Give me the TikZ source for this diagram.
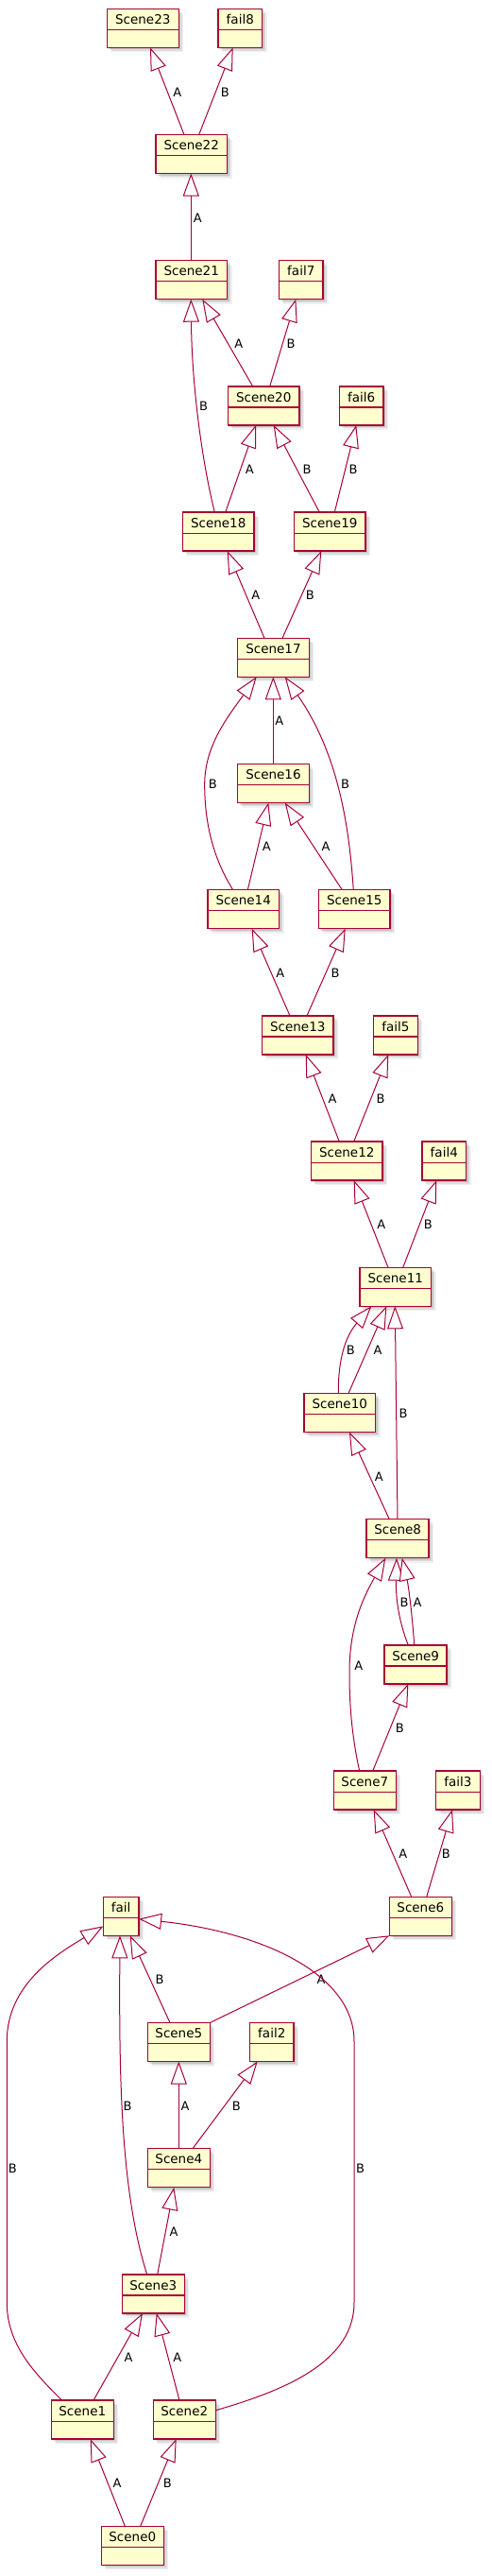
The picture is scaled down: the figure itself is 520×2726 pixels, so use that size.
\documentclass[tikz,border=0pt]{standalone}
\usepackage{fontspec}
\setmainfont{DejaVu Sans}
\usetikzlibrary{arrows.meta}
\definecolor{umlred}{HTML}{A80036}
\definecolor{umlfill}{HTML}{FEFECE}
\tikzset{
  umlbox/.style={draw=umlred, fill=umlfill, line width=1.5pt, inner sep=0pt, outer sep=0pt, minimum height=41pt,
    preaction={fill=black, opacity=0.10, transform canvas={xshift=2pt,yshift=-2pt}},
    preaction={fill=black, opacity=0.08, transform canvas={xshift=3.5pt,yshift=-3.5pt}},
    preaction={fill=black, opacity=0.06, transform canvas={xshift=5pt,yshift=-5pt}},
    path picture={\draw[umlred, line width=1.2pt] ([yshift=-22pt]path picture bounding box.north west) -- ([yshift=-22pt]path picture bounding box.north east);}},
  cname/.style={font=\fontsize{13.5}{15}\selectfont, inner sep=0pt, text=black},
  conn/.style={draw=umlred, line width=1pt, -{Triangle[length=24pt,width=17pt,fill=white,line width=1pt]}},
  lbl/.style={font=\fontsize{13}{15}\selectfont, inner sep=0pt, text=black},
}
\newcommand\umlnode[5]{%
  \node[umlbox, minimum width=#4pt] (#1) at (#2, {9.3+133.2*#3+20.5}) {};
  \node[cname] (#1t) at ([yshift=-11.2pt]#1.north) {#5};
}
\newcommand\sconn[7]{%
  \draw[conn] (#1.north -| #2,0) -- (#3.south -| #4,0);
  \node[lbl] (l#1#3#5) at (#6,#7) {#5};
}
\begin{document}
\begin{tikzpicture}[x=1pt,y=-1pt]
\useasboundingbox (0,0) rectangle (520,2726);
% nodes
\umlnode{s23}{151.3}{0}{76}{Scene23}
\umlnode{f8}{254.3}{0}{46.7}{fail8}
\umlnode{s22}{202.7}{1}{75.7}{Scene22}
\umlnode{s21}{202.7}{2}{75.7}{Scene21}
\umlnode{f7}{318.8}{2}{46.7}{fail7}
\umlnode{s20}{279.2}{3}{75.7}{Scene20}
\umlnode{f6}{382.7}{3}{46.7}{fail6}
\umlnode{s18}{231.2}{4}{75.7}{Scene18}
\umlnode{s19}{349.3}{4}{75.7}{Scene19}
\umlnode{s17}{289.5}{5}{75.7}{Scene17}
\umlnode{s16}{289.5}{6}{75.7}{Scene16}
\umlnode{s14}{257.7}{7}{75.7}{Scene14}
\umlnode{s15}{375.3}{7}{75.7}{Scene15}
\umlnode{s13}{315.3}{8}{75.7}{Scene13}
\umlnode{f5}{419}{8}{46.7}{fail5}
\umlnode{s12}{367.3}{9}{75.7}{Scene12}
\umlnode{f4}{470.3}{9}{46.7}{fail4}
\umlnode{s11}{418.8}{10}{75.7}{Scene11}
\umlnode{s10}{359.8}{11}{75.7}{Scene10}
\umlnode{s8}{421.2}{12}{66}{Scene8}
\umlnode{s9}{440.2}{13}{66}{Scene9}
\umlnode{s7}{386.3}{14}{66}{Scene7}
\umlnode{f3}{485}{14}{46.7}{fail3}
\umlnode{f0}{128.2}{15}{37.7}{fail}
\umlnode{s6}{445.3}{15}{66}{Scene6}
\umlnode{s5}{189.3}{16}{66}{Scene5}
\umlnode{f2}{287.8}{16}{46.7}{fail2}
\umlnode{s4}{189.3}{17}{66}{Scene4}
\umlnode{s3}{162.3}{18}{66}{Scene3}
\umlnode{s1}{87.3}{19}{66}{Scene1}
\umlnode{s2}{195.3}{19}{66}{Scene2}
\umlnode{s0}{140.3}{20}{66}{Scene0}
% straight edges
\sconn{s22}{195}{s23}{159}{A}{187.7}{97.3}
\sconn{s22}{210.7}{f8}{246.7}{B}{238.3}{97.3}
\sconn{s21}{202.3}{s22}{202.3}{A}{209.3}{230.7}
\sconn{s20}{267.7}{s21}{214.3}{A}{252.7}{363.3}
\sconn{s20}{285.7}{f7}{313.3}{B}{308}{363.3}
\sconn{s18}{238.7}{s20}{271}{A}{264.3}{496.7}
\sconn{s19}{338.3}{s20}{289.7}{B}{325}{496.7}
\sconn{s19}{354.3}{f6}{377.3}{B}{374}{496.7}
\sconn{s17}{280}{s18}{240.7}{A}{270.7}{630}
\sconn{s17}{299}{s19}{340.3}{B}{328.3}{630}
\sconn{s16}{289.3}{s17}{289.3}{A}{295.7}{762.7}
\sconn{s14}{262.3}{s16}{284.3}{A}{282.3}{896}
\sconn{s15}{362.3}{s16}{301.7}{A}{345}{896}
\sconn{s13}{307}{s14}{266.7}{A}{296.7}{1030}
\sconn{s13}{325}{s15}{365.7}{B}{355}{1030}
\sconn{s12}{359.3}{s13}{323.7}{A}{352}{1162.7}
\sconn{s12}{374.7}{f5}{411.3}{B}{403}{1162.7}
\sconn{s11}{411}{s12}{374.7}{A}{403.7}{1296}
\sconn{s11}{426.7}{f4}{462.3}{B}{453.3}{1296}
\sconn{s10}{369}{s11}{409.3}{A}{400}{1429}
\sconn{s8}{421}{s11}{418.3}{B}{427}{1496}
\sconn{s8}{412.3}{s10}{370}{A}{401.3}{1562.7}
\sconn{s7}{394.7}{s9}{432.3}{B}{423.3}{1828.3}
\sconn{s6}{435.7}{s7}{395.7}{A}{426.7}{1961.7}
\sconn{s6}{451.7}{f3}{479}{B}{472.3}{1961.7}
\sconn{s5}{180}{f0}{137.7}{B}{169}{2095}
\sconn{s4}{189.3}{s5}{189.3}{A}{196}{2228.3}
\sconn{s4}{204}{f2}{272.7}{B}{250.3}{2228.3}
\sconn{s3}{166.7}{s4}{184.3}{A}{184}{2361.7}
\sconn{s1}{99}{s3}{151}{A}{136}{2495}
\sconn{s2}{190}{s3}{165.7}{A}{187.7}{2495}
\sconn{s0}{132.3}{s1}{95.7}{A}{124}{2627.7}
\sconn{s0}{148.7}{s2}{186.7}{B}{177.3}{2627.7}
% Scene5 -> Scene6 (diagonal, corner to corner)
\draw[conn] (s5.north east) -- (s6.south west);
\node[lbl] (ls5s6A) at (340,2095) {A};
% curved edges
\draw[conn] (s18.north -| 227.3,0) .. controls (212,480) and (203,400) .. (s21.south -| 202.3,0);
\node[lbl] (ls18s21B) at (215.7,430) {B};
\draw[conn] (s14.north -| 246.7,0) .. controls (230,915) and (216.7,880) .. (216.7,830) .. controls (216.7,790) and (240,760) .. (s17.south -| 271.7,0);
\node[lbl] (ls14s17B) at (225.3,830) {B};
\draw[conn] (s15.north -| 374.3,0) .. controls (370,880) and (360,800) .. (s17.south -| 301.7,0);
\node[lbl] (ls15s17B) at (365.7,830) {B};
\draw[conn] (s10.north -| 358.3,0) .. controls (358,1440) and (365,1415) .. (s11.south -| 393.3,0);
\node[lbl] (ls10s11B) at (371.3,1429) {B};
\draw[conn] (s9.north -| 432.3,0) .. controls (422,1715) and (419,1690) .. (s8.south -| 420,0);
\node[lbl] (ls9s8B) at (428,1696) {B};
\draw[conn] (s9.north -| 438.7,0) .. controls (437,1715) and (433,1680) .. (s8.south -| 425.7,0);
\node[lbl] (ls9s8A) at (442,1696) {A};
\draw[conn] (s7.north -| 380.7,0) .. controls (372,1835) and (370,1800) .. (370,1770) .. controls (370,1720) and (385,1690) .. (s8.south -| 408.3,0);
\node[lbl] (ls7s8A) at (379.7,1762.3) {A};
\draw[conn] (s3.north -| 155.7,0) .. controls (128,2320) and (126,2200) .. (f0.south -| 127,0);
\node[lbl] (ls3f0B) at (135,2228.3) {B};
\draw[conn] (s1.north -| 65.7,0) .. controls (35,2510) and (7.3,2480) .. (7.3,2436.7) -- (7.3,2160) .. controls (7.3,2100) and (60,2068) .. (f0.west |- 0,2038.3);
\node[lbl] (ls1f0B) at (13.3,2295) {B};
\draw[conn] (s2.east |- 0,2550.7) .. controls (300,2530) and (375,2500) .. (375,2436.7) -- (375,2160) .. controls (375,2090) and (280,2045) .. (f0.east |- 0,2030.7);
\node[lbl] (ls2f0B) at (381.7,2295) {B};
\end{tikzpicture}
\end{document}
